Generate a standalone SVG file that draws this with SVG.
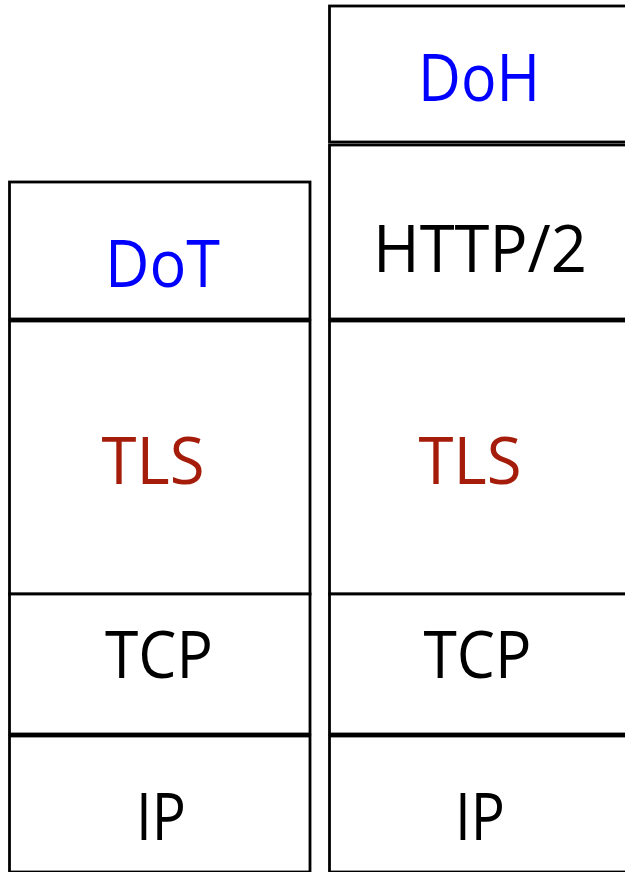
<svg xmlns="http://www.w3.org/2000/svg" width="625" height="872" viewBox="0 0 625 872">
<style>
.box{fill:#fff;stroke:#000;stroke-width:2.8}
.t{font-family:"Open Sans","Noto Sans","Liberation Sans",sans-serif;font-size:66px;text-anchor:middle}
.blue{fill:#0000ff}
.red{fill:#a51d0a}
.blk{fill:#000}
</style>
<rect width="625" height="872" fill="#fff"/>
<g id="dot-stack">
<g id="dot"><rect class="box" x="9.5" y="182" width="300.5" height="137"/><text class="t blue" x="162.5" y="287" textLength="115" lengthAdjust="spacingAndGlyphs">DoT</text></g>
<g id="tls-left"><rect class="box" x="9.5" y="321" width="300.5" height="273"/><text class="t red" x="153" y="484" textLength="103" lengthAdjust="spacingAndGlyphs">TLS</text></g>
<g id="tcp-left"><rect class="box" x="9.5" y="594" width="300.5" height="140"/><text class="t blk" x="159" y="678" textLength="108" lengthAdjust="spacingAndGlyphs">TCP</text></g>
<g id="ip-left"><rect class="box" x="9.5" y="736" width="300.5" height="136"/><text class="t blk" x="161" y="840" textLength="50" lengthAdjust="spacingAndGlyphs">IP</text></g>
</g>
<g id="doh-stack">
<g id="doh"><rect class="box" x="329.5" y="6" width="302" height="136"/><text class="t blue" x="479" y="101" textLength="122" lengthAdjust="spacingAndGlyphs">DoH</text></g>
<g id="http2"><rect class="box" x="329.5" y="145" width="302" height="174"/><text class="t blk" x="480" y="272" textLength="214" lengthAdjust="spacingAndGlyphs">HTTP/2</text></g>
<g id="tls-right"><rect class="box" x="329.5" y="321" width="302" height="273"/><text class="t red" x="470" y="484" textLength="103" lengthAdjust="spacingAndGlyphs">TLS</text></g>
<g id="tcp-right"><rect class="box" x="329.5" y="594" width="302" height="140"/><text class="t blk" x="477.5" y="678" textLength="108" lengthAdjust="spacingAndGlyphs">TCP</text></g>
<g id="ip-right"><rect class="box" x="329.5" y="736" width="302" height="136"/><text class="t blk" x="480" y="840" textLength="50" lengthAdjust="spacingAndGlyphs">IP</text></g>
</g>
<g id="connectors"></g>
</svg>
